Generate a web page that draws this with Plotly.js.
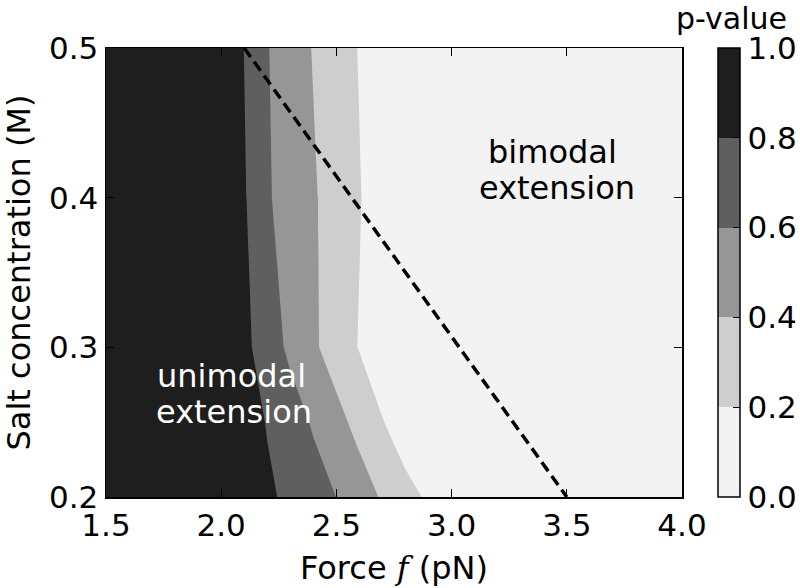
<!DOCTYPE html>
<html>
<head>
<meta charset="utf-8">
<script src="https://cdn.plot.ly/plotly-3.0.1.min.js"></script>
<style>html,body{margin:0;padding:0;background:#fff;}#chart{width:800px;height:588px;}</style>
</head>
<body>
<div id="chart"></div>
<script>
// Force grid (pN)
const forces = [1.5, 2.0, 2.1, 2.2, 2.3, 2.4, 2.5, 2.6, 2.7, 2.8, 2.9, 3.0, 4.0];
// Salt concentration grid (M)
const salts = [0.2, 0.25, 0.3, 0.4, 0.5];
// p-values, one row per salt concentration
const pRow020 = [0.99, 0.98, 0.91, 0.83, 0.76, 0.68, 0.598, 0.49, 0.38, 0.27, 0.17, 0.06, 0.01];
const pRow025 = [0.99, 0.99, 0.89, 0.79, 0.69, 0.58, 0.46, 0.34, 0.21, 0.08, 0.02, 0.01, 0.01];
const pRow030 = [0.99, 0.99, 0.85, 0.70, 0.56, 0.43, 0.31, 0.19, 0.07, 0.01, 0.01, 0.01, 0.01];
const pRow040 = [0.99, 0.99, 0.82, 0.62, 0.52, 0.42, 0.32, 0.21, 0.10, 0.01, 0.01, 0.01, 0.01];
const pRow050 = [0.99, 0.98, 0.796, 0.61, 0.496, 0.39, 0.29, 0.19, 0.09, 0.01, 0.01, 0.01, 0.01];
// Dashed boundary line
const boundaryF = [2.1, 3.5];
const boundaryC = [0.5, 0.2];
// Tick labels
const xTicks = [1.5, 2.0, 2.5, 3.0, 3.5, 4.0];
const yTicks = [0.2, 0.3, 0.4, 0.5];
const cbTicks = [0.0, 0.2, 0.4, 0.6, 0.8, 1.0];

const FONT = 'DejaVu Sans, sans-serif';
const bandColors = ['#f3f3f3', '#cecece', '#969696', '#5f5f5f', '#1e1e1e'];
const colorscale = [];
bandColors.forEach((c, i) => { colorscale.push([i / 5, c]); colorscale.push([(i + 1) / 5, c]); });

const contour = {
  type: 'contour',
  x: forces,
  y: salts,
  z: [pRow020, pRow025, pRow030, pRow040, pRow050],
  zmin: 0, zmax: 1,
  autocontour: false,
  contours: {start: 0, end: 1, size: 0.2, coloring: 'fill', showlines: false},
  line: {width: 0, smoothing: 0},
  colorscale: colorscale,
  hoverinfo: 'skip',
  colorbar: {
    thickness: 22, thicknessmode: 'pixels',
    len: 1, lenmode: 'fraction',
    x: 1.0625, xanchor: 'left', xpad: 0,
    y: 0.5, yanchor: 'middle', ypad: 0,
    outlinecolor: '#000', outlinewidth: 1.5,
    ticks: 'inside', ticklen: 7, tickwidth: 1, tickcolor: '#000',
    tickvals: cbTicks, ticktext: cbTicks.map(v => v.toFixed(1)),
    tickfont: {family: FONT, size: 31, color: '#000'}
  }
};

const boundary = {
  type: 'scatter', mode: 'lines', x: boundaryF, y: boundaryC,
  line: {color: '#000', width: 3.5, dash: '11px,6px'},
  showlegend: false, hoverinfo: 'skip'
};

const axisCommon = {
  showgrid: false, zeroline: false, automargin: false,
  showline: true, linecolor: '#000', linewidth: 1.5, mirror: 'allticks',
  ticks: 'inside', ticklen: 8, tickwidth: 1, tickcolor: '#000',
  tickfont: {family: FONT, size: 31, color: '#000'}
};

const layout = {
  width: 800, height: 588,
  margin: {l: 106, r: 118, t: 48, b: 91, autoexpand: false},
  paper_bgcolor: '#fff', plot_bgcolor: '#fff',
  showlegend: false,
  xaxis: Object.assign({}, axisCommon, {
    range: [1.5, 4.0], tickvals: xTicks, ticktext: xTicks.map(v => v.toFixed(1)),
    title: {text: 'Force <span style="font-family:\'DejaVu Serif\'"><i>f</i></span> (pN)', font: {family: FONT, size: 32, color: '#000'}, standoff: 15}
  }),
  yaxis: Object.assign({}, axisCommon, {
    range: [0.2, 0.5], tickvals: yTicks, ticktext: yTicks.map(v => v.toFixed(1)),
    title: {text: 'Salt concentration (M)', font: {family: FONT, size: 32, color: '#000'}, standoff: 20}
  }),
  annotations: [
    {text: 'p-value', xref: 'paper', yref: 'paper', x: (731 - 106) / 576, y: 1, yshift: 11, borderpad: 0, xanchor: 'center', yanchor: 'bottom', showarrow: false, font: {family: FONT, size: 30, color: '#000'}},
    {text: 'bimodal', x: 3.44, y: 0.4305, xanchor: 'center', yanchor: 'middle', showarrow: false, font: {family: FONT, size: 32, color: '#000'}},
    {text: 'extension', x: 3.457, y: 0.4064, xanchor: 'center', yanchor: 'middle', showarrow: false, font: {family: FONT, size: 32, color: '#000'}},
    {text: 'unimodal', x: 2.044, y: 0.2807, xanchor: 'center', yanchor: 'middle', showarrow: false, font: {family: FONT, size: 32, color: '#fff'}},
    {text: 'extension', x: 2.057, y: 0.2566, xanchor: 'center', yanchor: 'middle', showarrow: false, font: {family: FONT, size: 32, color: '#fff'}}
  ]
};

Plotly.newPlot('chart', [contour, boundary], layout, {staticPlot: true, displayModeBar: false});
</script>
</body>
</html>
